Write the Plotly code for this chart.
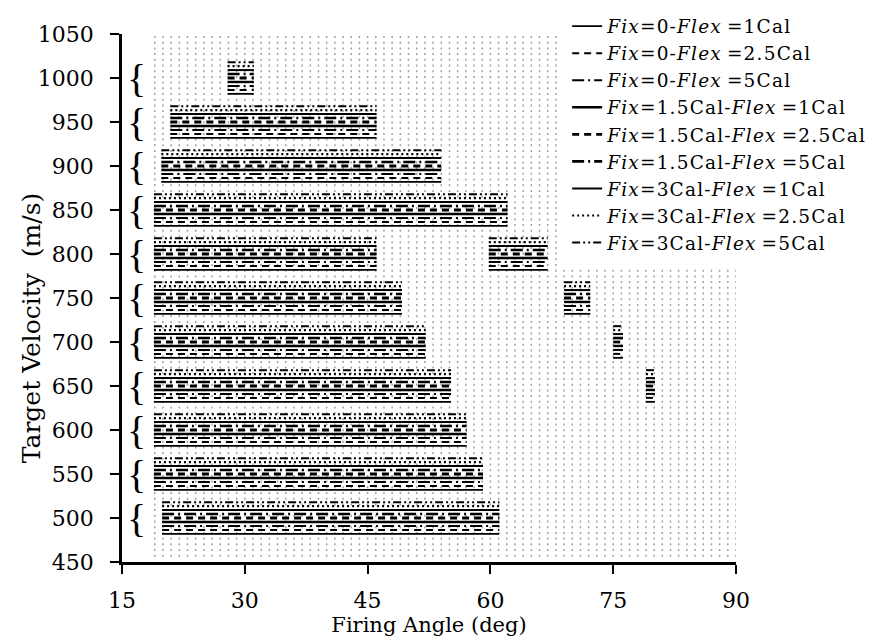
import plotly.graph_objects as go

# ---------------- data ----------------
series_names = [
    "<i>Fix</i>=0-<i>Flex</i>\u2009=1Cal",
    "<i>Fix</i>=0-<i>Flex</i>\u2009=2.5Cal",
    "<i>Fix</i>=0-<i>Flex</i>\u2009=5Cal",
    "<i>Fix</i>=1.5Cal-<i>Flex</i>\u2009=1Cal",
    "<i>Fix</i>=1.5Cal-<i>Flex</i>\u2009=2.5Cal",
    "<i>Fix</i>=1.5Cal-<i>Flex</i>\u2009=5Cal",
    "<i>Fix</i>=3Cal-<i>Flex</i>\u2009=1Cal",
    "<i>Fix</i>=3Cal-<i>Flex</i>\u2009=2.5Cal",
    "<i>Fix</i>=3Cal-<i>Flex</i>\u2009=5Cal",
]

# target velocity groups (m/s) and firing angle ranges (deg)
velocities = [500, 550, 600, 650, 700, 750, 800, 850, 900, 950, 1000]
range_start = [19.9, 18.9, 18.9, 18.9, 18.9, 18.9, 18.9, 18.9, 19.8, 20.9, 27.9]
range_end = [61.1, 59.1, 57.1, 55.2, 52.1, 49.2, 46.1, 62.1, 54.0, 46.1, 31.1]

# secondary (isolated) ranges
extra_velocities = [650, 700, 750, 800]
extra_start = [79.0, 75.0, 69.0, 59.8]
extra_end = [80.1, 76.2, 72.2, 67.0]

x_ticks = [15, 30, 45, 60, 75, 90]
y_ticks = list(range(450, 1051, 50))

# ---------------- styles ----------------
group_step = 4.5  # vertical spacing of the stacked series inside a group (m/s)
styles = [
    dict(dash="solid", width=1.8),
    dict(dash="7px,5px", width=2.0),
    dict(dash="12px,4px,2px,4px", width=2.0),
    dict(dash="solid", width=2.4),
    dict(dash="7px,5px", width=2.8),
    dict(dash="12px,4px,2px,4px", width=2.6),
    dict(dash="solid", width=2.0),
    dict(dash="2px,3px", width=2.2),
    dict(dash="8px,3px,2px,3px,2px,3px", width=2.0),
]

fig = go.Figure()

# dotted background grid
grid_full_x = list(range(19, 69))
grid_low_x = list(range(69, 91))
gx, gy = [], []
for xv in grid_full_x:
    gx += [xv, xv, None]
    gy += [456, 1048, None]
for xv in grid_low_x:
    gx += [xv, xv, None]
    gy += [456, 786, None]
fig.add_trace(go.Scatter(
    x=gx, y=gy, mode="lines", hoverinfo="skip", showlegend=False,
    line=dict(color="#a0a0a0", width=1.5, dash="2px,3.7px"),
))

# series lines
for i, name in enumerate(series_names):
    off = (i - 4) * group_step
    xs, ys = [], []
    for v, s, e in zip(velocities, range_start, range_end):
        xs += [s, e, None]
        ys += [v + off, v + off, None]
    for v, s, e in zip(extra_velocities, extra_start, extra_end):
        xs += [s, e, None]
        ys += [v + off, v + off, None]
    fig.add_trace(go.Scatter(
        x=xs, y=ys, mode="lines",
        name='<span style="letter-spacing:1.2px">' + name + "</span>",
        line=dict(color="black", width=styles[i]["width"], dash=styles[i]["dash"]),
    ))

# curly braces marking each velocity group
annotations = []
for v in velocities:
    annotations.append(dict(
        x=16.8, y=v, xref="x", yref="y", text="{", showarrow=False,
        font=dict(family="Liberation Serif", size=40, color="black"),
        xanchor="center", yanchor="middle",
    ))

annotations.append(dict(
    x=-0.148, y=0.443, xref="paper", yref="paper",
    text="Target Velocity  (m/s)", textangle=-90, showarrow=False,
    font=dict(family="DejaVu Serif", size=25, color="black"),
    xanchor="center", yanchor="middle",
))

# the page body adds an 8px offset, so the figure is 8px smaller
fig.update_layout(
    width=871, height=632,
    margin=dict(l=114, r=143, t=26, b=78, autoexpand=False),
    paper_bgcolor="white", plot_bgcolor="white",
    font=dict(family="DejaVu Serif", color="black"),
    showlegend=True,
    legend=dict(
        x=0.725, y=1.05, xanchor="left", yanchor="top",
        bgcolor="rgba(0,0,0,0)", borderwidth=0,
        font=dict(family="DejaVu Serif", size=18.5, color="black"),
        itemwidth=30, tracegroupgap=0,
    ),
    annotations=annotations,
    xaxis=dict(
        range=[15, 90], tickmode="array", tickvals=x_ticks,
        showline=True, linecolor="black", linewidth=2.5,
        ticks="outside", ticklen=9, tickwidth=2, tickcolor="black",
        showgrid=False, zeroline=False,
        tickfont=dict(family="DejaVu Serif", size=22, color="black"),
        ticklabelstandoff=8,
        title=dict(text="Firing Angle (deg)",
                   font=dict(family="DejaVu Serif", size=21, color="black"),
                   standoff=4),
    ),
    yaxis=dict(
        range=[450, 1050], tickmode="array", tickvals=y_ticks,
        showline=True, linecolor="black", linewidth=2.5,
        ticks="outside", ticklen=9, tickwidth=2, tickcolor="black",
        showgrid=False, zeroline=False,
        tickfont=dict(family="DejaVu Serif", size=22, color="black"),
        ticklabelstandoff=12,
    ),
)

fig.write_html("out.html")
